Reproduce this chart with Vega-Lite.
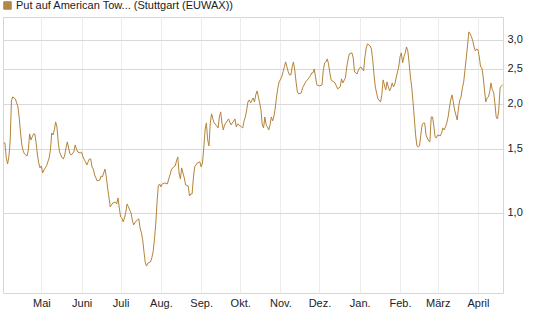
{
"$schema": "https://vega.github.io/schema/vega-lite/v6.json",
"width": 500, "height": 276,
"autosize": {"type": "none"},
"padding": {"left": 3, "top": 17, "right": 42, "bottom": 34},
"background": "white",
"config": {"view": {"stroke": "#d6d6d6", "strokeWidth": 1}, "font": "Liberation Sans"},
"data": {"values": [
{"date":"2023-04-02","value":1.558},{"date":"2023-04-03","value":1.558},{"date":"2023-04-04","value":1.416},{"date":"2023-04-05","value":1.363},{"date":"2023-04-06","value":1.425},{"date":"2023-04-07","value":1.568},{"date":"2023-04-08","value":2.035},{"date":"2023-04-09","value":2.088},{"date":"2023-04-11","value":2.061},{"date":"2023-04-12","value":2.010},{"date":"2023-04-13","value":1.959},{"date":"2023-04-14","value":1.827},{"date":"2023-04-15","value":1.660},{"date":"2023-04-16","value":1.538},{"date":"2023-04-17","value":1.481},{"date":"2023-04-18","value":1.453},{"date":"2023-04-20","value":1.434},{"date":"2023-04-21","value":1.490},{"date":"2023-04-22","value":1.650},{"date":"2023-04-23","value":1.588},{"date":"2023-04-24","value":1.619},{"date":"2023-04-25","value":1.650},{"date":"2023-04-26","value":1.650},{"date":"2023-04-27","value":1.558},{"date":"2023-04-28","value":1.443},{"date":"2023-04-29","value":1.372},{"date":"2023-04-30","value":1.329},
{"date":"2023-05-01","value":1.346},{"date":"2023-05-02","value":1.287},{"date":"2023-05-03","value":1.312},{"date":"2023-05-04","value":1.329},{"date":"2023-05-05","value":1.346},{"date":"2023-05-06","value":1.381},{"date":"2023-05-07","value":1.416},{"date":"2023-05-08","value":1.490},{"date":"2023-05-09","value":1.660},{"date":"2023-05-10","value":1.639},{"date":"2023-05-11","value":1.692},{"date":"2023-05-12","value":1.781},{"date":"2023-05-13","value":1.725},{"date":"2023-05-14","value":1.568},{"date":"2023-05-15","value":1.471},{"date":"2023-05-17","value":1.416},{"date":"2023-05-18","value":1.407},{"date":"2023-05-19","value":1.443},{"date":"2023-05-20","value":1.509},{"date":"2023-05-21","value":1.568},{"date":"2023-05-22","value":1.509},{"date":"2023-05-23","value":1.453},{"date":"2023-05-24","value":1.443},{"date":"2023-05-26","value":1.471},{"date":"2023-05-27","value":1.538},{"date":"2023-05-28","value":1.500},{"date":"2023-05-29","value":1.471},{"date":"2023-05-31","value":1.462},
{"date":"2023-06-01","value":1.471},{"date":"2023-06-02","value":1.425},{"date":"2023-06-04","value":1.381},{"date":"2023-06-05","value":1.354},{"date":"2023-06-06","value":1.381},{"date":"2023-06-07","value":1.407},{"date":"2023-06-08","value":1.407},{"date":"2023-06-09","value":1.337},{"date":"2023-06-10","value":1.320},{"date":"2023-06-11","value":1.271},{"date":"2023-06-13","value":1.223},{"date":"2023-06-15","value":1.231},{"date":"2023-06-16","value":1.263},{"date":"2023-06-17","value":1.255},{"date":"2023-06-18","value":1.287},{"date":"2023-06-19","value":1.320},{"date":"2023-06-20","value":1.255},{"date":"2023-06-21","value":1.170},{"date":"2023-06-22","value":1.105},{"date":"2023-06-23","value":1.037},{"date":"2023-06-24","value":1.050},{"date":"2023-06-25","value":1.064},{"date":"2023-06-27","value":1.070},{"date":"2023-06-28","value":1.057},{"date":"2023-06-29","value":1.098},{"date":"2023-06-30","value":1.030},
{"date":"2023-07-01","value":0.973},{"date":"2023-07-02","value":0.967},{"date":"2023-07-03","value":0.943},{"date":"2023-07-04","value":0.967},{"date":"2023-07-05","value":1.004},{"date":"2023-07-06","value":1.057},{"date":"2023-07-07","value":1.037},{"date":"2023-07-09","value":0.998},{"date":"2023-07-10","value":0.955},{"date":"2023-07-11","value":0.925},{"date":"2023-07-12","value":0.937},{"date":"2023-07-13","value":0.949},{"date":"2023-07-15","value":0.961},{"date":"2023-07-16","value":0.907},{"date":"2023-07-17","value":0.879},{"date":"2023-07-18","value":0.841},{"date":"2023-07-19","value":0.779},{"date":"2023-07-20","value":0.726},{"date":"2023-07-21","value":0.712},{"date":"2023-07-22","value":0.726},{"date":"2023-07-24","value":0.731},{"date":"2023-07-25","value":0.750},{"date":"2023-07-26","value":0.779},{"date":"2023-07-27","value":0.841},{"date":"2023-07-28","value":0.925},{"date":"2023-07-29","value":1.064},{"date":"2023-07-30","value":1.185},{"date":"2023-07-31","value":1.200},
{"date":"2023-08-01","value":1.178},{"date":"2023-08-02","value":1.200},{"date":"2023-08-04","value":1.208},{"date":"2023-08-06","value":1.200},{"date":"2023-08-07","value":1.239},{"date":"2023-08-08","value":1.271},{"date":"2023-08-09","value":1.312},{"date":"2023-08-10","value":1.329},{"date":"2023-08-12","value":1.346},{"date":"2023-08-13","value":1.389},{"date":"2023-08-14","value":1.425},{"date":"2023-08-15","value":1.287},{"date":"2023-08-16","value":1.239},{"date":"2023-08-17","value":1.329},{"date":"2023-08-18","value":1.287},{"date":"2023-08-19","value":1.247},{"date":"2023-08-20","value":1.193},{"date":"2023-08-22","value":1.185},{"date":"2023-08-23","value":1.112},{"date":"2023-08-24","value":1.126},{"date":"2023-08-25","value":1.126},{"date":"2023-08-26","value":1.247},{"date":"2023-08-27","value":1.337},{"date":"2023-08-29","value":1.372},{"date":"2023-08-31","value":1.381},
{"date":"2023-09-01","value":1.337},{"date":"2023-09-02","value":1.372},{"date":"2023-09-03","value":1.509},{"date":"2023-09-04","value":1.692},{"date":"2023-09-05","value":1.769},{"date":"2023-09-06","value":1.588},{"date":"2023-09-07","value":1.529},{"date":"2023-09-08","value":1.769},{"date":"2023-09-09","value":1.874},{"date":"2023-09-10","value":1.815},{"date":"2023-09-11","value":1.769},{"date":"2023-09-13","value":1.736},{"date":"2023-09-14","value":1.714},{"date":"2023-09-15","value":1.838},{"date":"2023-09-16","value":1.898},{"date":"2023-09-17","value":1.769},{"date":"2023-09-18","value":1.692},{"date":"2023-09-19","value":1.747},{"date":"2023-09-21","value":1.792},{"date":"2023-09-22","value":1.815},{"date":"2023-09-24","value":1.747},{"date":"2023-09-25","value":1.769},{"date":"2023-09-27","value":1.815},{"date":"2023-09-28","value":1.725},{"date":"2023-09-29","value":1.758},{"date":"2023-09-30","value":1.747},
{"date":"2023-10-02","value":1.725},{"date":"2023-10-03","value":1.714},{"date":"2023-10-04","value":1.792},{"date":"2023-10-05","value":1.838},{"date":"2023-10-06","value":1.922},{"date":"2023-10-07","value":2.022},{"date":"2023-10-08","value":2.048},{"date":"2023-10-09","value":2.010},{"date":"2023-10-11","value":2.074},{"date":"2023-10-12","value":2.022},{"date":"2023-10-13","value":2.114},{"date":"2023-10-14","value":2.169},{"date":"2023-10-15","value":2.088},{"date":"2023-10-16","value":2.010},{"date":"2023-10-17","value":1.922},{"date":"2023-10-18","value":1.747},{"date":"2023-10-19","value":1.714},{"date":"2023-10-20","value":1.838},{"date":"2023-10-21","value":1.747},{"date":"2023-10-22","value":1.725},{"date":"2023-10-23","value":1.692},{"date":"2023-10-24","value":1.747},{"date":"2023-10-25","value":1.838},{"date":"2023-10-26","value":1.792},{"date":"2023-10-27","value":1.850},{"date":"2023-10-28","value":1.946},{"date":"2023-10-29","value":2.088},{"date":"2023-10-30","value":2.211},{"date":"2023-10-31","value":2.297},
{"date":"2023-11-02","value":2.371},{"date":"2023-11-03","value":2.448},{"date":"2023-11-04","value":2.526},{"date":"2023-11-05","value":2.608},{"date":"2023-11-06","value":2.526},{"date":"2023-11-07","value":2.448},{"date":"2023-11-08","value":2.401},{"date":"2023-11-09","value":2.401},{"date":"2023-11-10","value":2.526},{"date":"2023-11-11","value":2.608},{"date":"2023-11-12","value":2.479},{"date":"2023-11-13","value":2.297},{"date":"2023-11-14","value":2.155},{"date":"2023-11-15","value":2.128},{"date":"2023-11-17","value":2.141},{"date":"2023-11-18","value":2.211},{"date":"2023-11-20","value":2.282},{"date":"2023-11-21","value":2.311},{"date":"2023-11-23","value":2.356},{"date":"2023-11-24","value":2.386},{"date":"2023-11-25","value":2.432},{"date":"2023-11-26","value":2.432},{"date":"2023-11-27","value":2.494},{"date":"2023-11-28","value":2.371},{"date":"2023-11-29","value":2.253},
{"date":"2023-12-01","value":2.239},{"date":"2023-12-03","value":2.253},{"date":"2023-12-04","value":2.479},{"date":"2023-12-05","value":2.592},{"date":"2023-12-06","value":2.608},{"date":"2023-12-07","value":2.658},{"date":"2023-12-08","value":2.575},{"date":"2023-12-09","value":2.432},{"date":"2023-12-10","value":2.326},{"date":"2023-12-12","value":2.297},{"date":"2023-12-13","value":2.282},{"date":"2023-12-14","value":2.239},{"date":"2023-12-15","value":2.197},{"date":"2023-12-17","value":2.225},{"date":"2023-12-18","value":2.341},{"date":"2023-12-19","value":2.282},{"date":"2023-12-21","value":2.356},{"date":"2023-12-22","value":2.526},{"date":"2023-12-23","value":2.642},{"date":"2023-12-24","value":2.744},{"date":"2023-12-26","value":2.762},{"date":"2023-12-27","value":2.675},{"date":"2023-12-28","value":2.448},{"date":"2023-12-30","value":2.416},{"date":"2023-12-31","value":2.479},
{"date":"2024-01-01","value":2.511},{"date":"2024-01-02","value":2.526},{"date":"2024-01-04","value":2.463},{"date":"2024-01-05","value":2.693},{"date":"2024-01-06","value":2.851},{"date":"2024-01-07","value":2.925},{"date":"2024-01-09","value":2.888},{"date":"2024-01-10","value":2.833},{"date":"2024-01-11","value":2.642},{"date":"2024-01-12","value":2.401},{"date":"2024-01-13","value":2.225},{"date":"2024-01-14","value":2.141},{"date":"2024-01-15","value":2.061},{"date":"2024-01-17","value":2.022},{"date":"2024-01-18","value":2.114},{"date":"2024-01-19","value":2.326},{"date":"2024-01-20","value":2.253},{"date":"2024-01-21","value":2.183},{"date":"2024-01-22","value":2.297},{"date":"2024-01-23","value":2.225},{"date":"2024-01-24","value":2.169},{"date":"2024-01-25","value":2.211},{"date":"2024-01-26","value":2.282},{"date":"2024-01-27","value":2.225},{"date":"2024-01-28","value":2.268},{"date":"2024-01-29","value":2.356},{"date":"2024-01-31","value":2.526},
{"date":"2024-02-01","value":2.693},{"date":"2024-02-02","value":2.762},{"date":"2024-02-03","value":2.592},{"date":"2024-02-04","value":2.693},{"date":"2024-02-05","value":2.762},{"date":"2024-02-06","value":2.869},{"date":"2024-02-07","value":2.797},{"date":"2024-02-08","value":2.592},{"date":"2024-02-09","value":2.371},{"date":"2024-02-10","value":2.225},{"date":"2024-02-11","value":2.022},{"date":"2024-02-12","value":1.827},{"date":"2024-02-13","value":1.639},{"date":"2024-02-14","value":1.529},{"date":"2024-02-15","value":1.519},{"date":"2024-02-16","value":1.529},{"date":"2024-02-17","value":1.639},{"date":"2024-02-18","value":1.747},{"date":"2024-02-19","value":1.769},{"date":"2024-02-20","value":1.769},{"date":"2024-02-21","value":1.639},{"date":"2024-02-23","value":1.578},{"date":"2024-02-24","value":1.568},{"date":"2024-02-25","value":1.838},{"date":"2024-02-26","value":1.838},{"date":"2024-02-27","value":1.736},{"date":"2024-02-28","value":1.619},{"date":"2024-02-29","value":1.608},
{"date":"2024-03-01","value":1.639},{"date":"2024-03-03","value":1.629},{"date":"2024-03-04","value":1.660},{"date":"2024-03-05","value":1.714},{"date":"2024-03-06","value":1.692},{"date":"2024-03-07","value":1.725},{"date":"2024-03-08","value":1.769},{"date":"2024-03-09","value":1.838},{"date":"2024-03-10","value":1.946},{"date":"2024-03-11","value":2.048},{"date":"2024-03-12","value":2.114},{"date":"2024-03-13","value":2.022},{"date":"2024-03-14","value":1.922},{"date":"2024-03-15","value":1.862},{"date":"2024-03-16","value":1.803},{"date":"2024-03-17","value":1.946},{"date":"2024-03-18","value":2.048},{"date":"2024-03-19","value":2.088},{"date":"2024-03-20","value":2.211},{"date":"2024-03-21","value":2.297},{"date":"2024-03-22","value":2.479},{"date":"2024-03-23","value":2.675},{"date":"2024-03-24","value":2.906},{"date":"2024-03-25","value":3.157},{"date":"2024-03-26","value":3.117},{"date":"2024-03-27","value":3.058},{"date":"2024-03-28","value":2.981},{"date":"2024-03-29","value":2.869},{"date":"2024-03-30","value":2.797},{"date":"2024-03-31","value":2.833},
{"date":"2024-04-01","value":2.815},{"date":"2024-04-02","value":2.693},{"date":"2024-04-03","value":2.526},{"date":"2024-04-04","value":2.511},{"date":"2024-04-05","value":2.371},{"date":"2024-04-06","value":2.183},{"date":"2024-04-07","value":2.022},{"date":"2024-04-08","value":2.074},{"date":"2024-04-09","value":2.088},{"date":"2024-04-10","value":2.155},{"date":"2024-04-11","value":2.282},{"date":"2024-04-12","value":2.183},{"date":"2024-04-13","value":2.155},{"date":"2024-04-14","value":2.010},{"date":"2024-04-15","value":1.838},{"date":"2024-04-16","value":1.815},{"date":"2024-04-17","value":1.922},{"date":"2024-04-18","value":2.211},{"date":"2024-04-19","value":2.239},{"date":"2024-04-20","value":2.253}
]},
"mark": {"type": "line", "strokeWidth": 1, "clip": true},
"encoding": {
  "x": {"field": "date", "type": "temporal",
    "scale": {"type": "utc", "domain": [{"year": 2023, "month": 4, "date": 1, "hours": 12, "utc": true}, {"year": 2024, "month": 4, "date": 20, "hours": 6, "utc": true}]},
    "axis": {"title": null, "tickCount": {"interval": "month", "step": 1}, "grid": true, "gridColor": "#ececec", "gridWidth": 1, "domain": false, "ticks": false, "labelPadding": 4, "labelFontSize": 11, "labelColor": "#222222", "labelFont": "Liberation Sans", "labelOverlap": false, "labelFlush": false,
      "labelExpr": "['Jan.','Feb.','März','April','Mai','Juni','Juli','Aug.','Sep.','Okt.','Nov.','Dez.'][utcmonth(datum.value)]"}},
  "y": {"field": "value", "type": "quantitative",
    "scale": {"type": "log", "domain": [0.6, 3.47], "nice": false},
    "axis": {"title": null, "orient": "right", "values": [1.0, 1.5, 2.0, 2.5, 3.0], "grid": true, "gridColor": "#d9d9d9", "domain": false, "ticks": false, "labelPadding": 4, "labelFontSize": 11, "labelColor": "#222222", "labelFont": "Liberation Sans",
      "labelExpr": "replace(format(datum.value, '.1f'), '.', ',')"}},
  "color": {"datum": "Put auf American Tow... (Stuttgart (EUWAX))", "type": "nominal",
    "scale": {"range": ["#b5843a"]},
    "legend": {"title": null, "orient": "none", "legendX": -1, "legendY": -17, "padding": 0, "labelFontSize": 11, "labelColor": "#222222", "labelFont": "Liberation Sans", "labelOffset": 3, "labelLimit": 400, "symbolType": "square", "symbolSize": 64,
      "encode": {"symbols": {"update": {"fill": {"value": "#b3864a"}, "stroke": {"value": "#4f4030"}, "strokeWidth": {"value": 1}, "shape": {"value": "square"}, "size": {"value": 56}}}}}}
}
}
